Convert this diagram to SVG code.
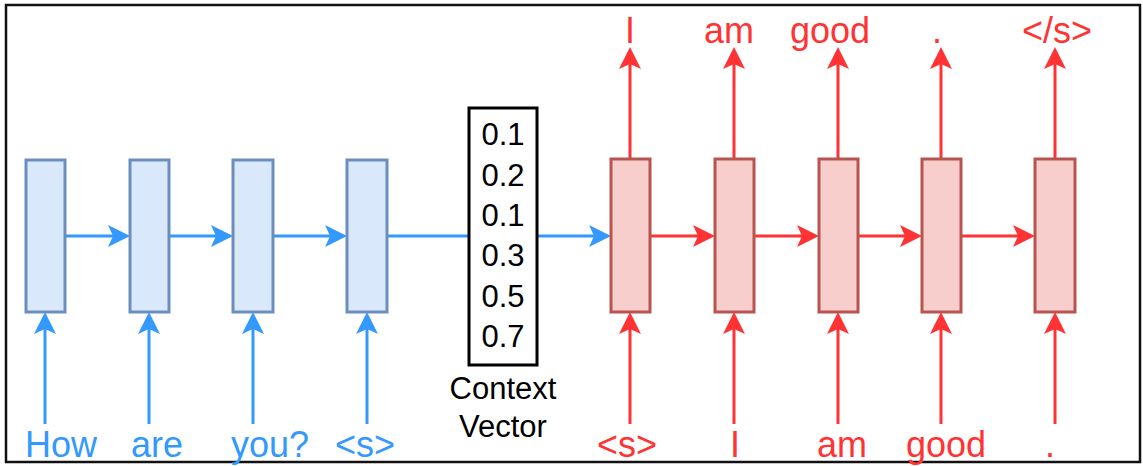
<svg xmlns="http://www.w3.org/2000/svg" width="1143" height="466" viewBox="0 0 1143 466">
<style>
.enc{fill:#DAE8FC;stroke:#6C8EBF;stroke-width:3}
.dec{fill:#F8CECC;stroke:#B85450;stroke-width:3}
.bl{stroke:#3399FF;stroke-width:3;fill:none}
.rl{stroke:#FF3333;stroke-width:3;fill:none}
.ab{marker-end:url(#ahb)}
.ar{marker-end:url(#ahr)}
text{font-family:"Liberation Sans",Arial,Helvetica,sans-serif;text-anchor:middle}
.bt{fill:#3399FF;font-size:36px}
.rt{fill:#FF3333;font-size:36px}
.num{fill:#000;font-size:31px}
</style>
<defs>
<marker id="ahb" viewBox="0 0 22 22" refX="5" refY="11" markerWidth="22" markerHeight="22" markerUnits="userSpaceOnUse" orient="auto"><path d="M0,0 L22,11 L0,22 L5,11 Z" fill="#3399FF"/></marker>
<marker id="ahr" viewBox="0 0 22 22" refX="5" refY="11" markerWidth="22" markerHeight="22" markerUnits="userSpaceOnUse" orient="auto"><path d="M0,0 L22,11 L0,22 L5,11 Z" fill="#FF3333"/></marker>
</defs>
<rect x="6" y="5" width="1134" height="457" fill="#fff" stroke="#111" stroke-width="2.5"/>
<g id="connectors">
<line class="bl ab" x1="45" y1="424" x2="45" y2="329"/>
<line class="bl ab" x1="149" y1="424" x2="149" y2="329"/>
<line class="bl ab" x1="253" y1="424" x2="253" y2="329"/>
<line class="bl ab" x1="367" y1="424" x2="367" y2="329"/>
<line class="bl ab" x1="65" y1="236" x2="113" y2="236"/>
<line class="bl ab" x1="169" y1="236" x2="216" y2="236"/>
<line class="bl ab" x1="273" y1="236" x2="330" y2="236"/>
<line class="bl" x1="387" y1="236" x2="469" y2="236"/>
<line class="bl ab" x1="537" y1="236" x2="594" y2="236"/>
<line class="rl ar" x1="650" y1="236" x2="698" y2="236"/>
<line class="rl ar" x1="754" y1="236" x2="802" y2="236"/>
<line class="rl ar" x1="858" y1="236" x2="905" y2="236"/>
<line class="rl ar" x1="961" y1="236" x2="1018" y2="236"/>
<line class="rl ar" x1="630" y1="424" x2="630" y2="329"/>
<line class="rl ar" x1="734" y1="424" x2="734" y2="329"/>
<line class="rl ar" x1="838" y1="424" x2="838" y2="329"/>
<line class="rl ar" x1="941" y1="424" x2="941" y2="329"/>
<line class="rl ar" x1="1055" y1="424" x2="1055" y2="329"/>
<line class="rl ar" x1="630" y1="159" x2="630" y2="64"/>
<line class="rl ar" x1="734" y1="159" x2="734" y2="64"/>
<line class="rl ar" x1="838" y1="159" x2="838" y2="64"/>
<line class="rl ar" x1="941" y1="159" x2="941" y2="64"/>
<line class="rl ar" x1="1055" y1="159" x2="1055" y2="64"/>
</g>
<g id="enc1"><rect class="enc" x="26" y="160" width="39" height="152"/></g>
<g id="enc2"><rect class="enc" x="130" y="160" width="39" height="152"/></g>
<g id="enc3"><rect class="enc" x="233" y="160" width="40" height="152"/></g>
<g id="enc4"><rect class="enc" x="347" y="160" width="40" height="152"/></g>
<g id="dec1"><rect class="dec" x="611" y="159" width="39" height="153"/></g>
<g id="dec2"><rect class="dec" x="715" y="159" width="39" height="153"/></g>
<g id="dec3"><rect class="dec" x="819" y="159" width="39" height="153"/></g>
<g id="dec4"><rect class="dec" x="922" y="159" width="39" height="153"/></g>
<g id="dec5"><rect class="dec" x="1035" y="159" width="40" height="153"/></g>
<g id="context">
<rect x="469" y="108" width="68" height="257" fill="#fff" stroke="#000" stroke-width="3"/>
<text class="num" x="503" y="145">0.1</text>
<text class="num" x="503" y="186">0.2</text>
<text class="num" x="503" y="226">0.1</text>
<text class="num" x="503" y="266">0.3</text>
<text class="num" x="503" y="307">0.5</text>
<text class="num" x="503" y="347">0.7</text>
<text class="num" x="503" y="399">Context</text>
<text class="num" x="503" y="437">Vector</text>
</g>
<g id="in-labels">
<text class="bt" x="61" y="457">How</text>
<text class="bt" x="157" y="457">are</text>
<text class="bt" x="270" y="457">you?</text>
<text class="bt" x="365" y="457">&lt;s&gt;</text>
<text class="rt" x="627" y="457">&lt;s&gt;</text>
<text class="rt" x="735" y="457">I</text>
<text class="rt" x="842" y="457">am</text>
<text class="rt" x="946" y="457">good</text>
<text class="rt" x="1050" y="457">.</text>
</g>
<g id="out-labels">
<text class="rt" x="630" y="43">I</text>
<text class="rt" x="729" y="43">am</text>
<text class="rt" x="830" y="43">good</text>
<text class="rt" x="937" y="43">.</text>
<text class="rt" x="1057" y="43">&lt;/s&gt;</text>
</g>
</svg>
